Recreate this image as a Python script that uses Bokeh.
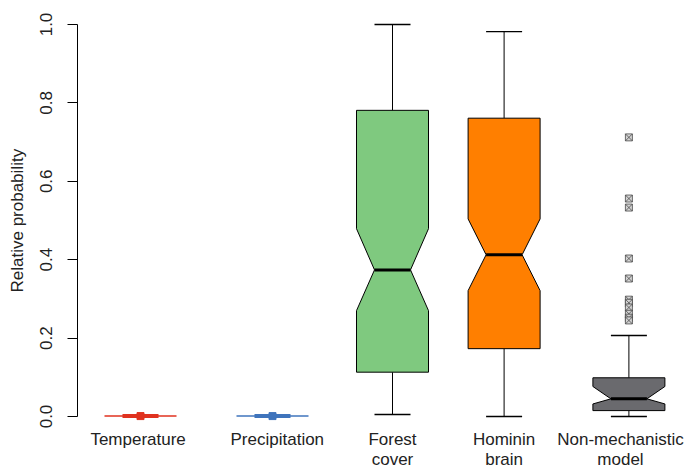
from bokeh.plotting import figure
from bokeh.models import FixedTicker, PrintfTickFormatter, Range1d, Title
from bokeh.core.properties import value
from bokeh.embed import file_html
from bokeh.resources import INLINE

# ---- data ----
groups = ["Temperature", "Precipitation", "Forest cover", "Hominin brain", "Non-mechanistic model"]
labels = ["Temperature", "Precipitation", "Forest\ncover", "Hominin\nbrain", "Non-mechanistic\nmodel"]
positions = [1.0, 2.1, 3.1, 4.03, 5.07]
label_x = [0.98, 2.14, 3.1, 4.03, 5.0]
colors = ["#E0321F", "#3F74BC", "#7FC97F", "#FF7F00", "#6A6A6E"]

lower_whisker = [0.0, 0.0, 0.005, 0.0, 0.0]
q1 = [0.0, 0.0, 0.113, 0.173, 0.015]
notch_lo = [0.0, 0.0, 0.270, 0.321, 0.032]
median = [0.001, 0.001, 0.374, 0.4125, 0.045]
notch_hi = [0.002, 0.002, 0.479, 0.504, 0.0765]
q3 = [0.002, 0.002, 0.781, 0.761, 0.0987]
upper_whisker = [0.004, 0.004, 1.0, 0.982, 0.2066]

outliers_nonmech = [0.712, 0.556, 0.533, 0.403, 0.352, 0.298, 0.290, 0.278, 0.262, 0.252, 0.245]

y_ticks = [0.0, 0.2, 0.4, 0.6, 0.8, 1.0]

FONT = "Liberation Sans"
FS = "17px"
HW = 0.3  # half box width (x units)

p = figure(width=686, height=468, output_backend="svg", toolbar_location=None,
           x_range=Range1d(0.475, 5.55), y_range=Range1d(-0.1327, 1.0612),
           x_axis_location=None, min_border_left=77, min_border_right=0,
           min_border_top=0, min_border_bottom=0)
p.outline_line_color = None
p.grid.visible = False
p.background_fill_color = "white"

ax = p.yaxis[0]
ax.ticker = FixedTicker(ticks=y_ticks)
ax.formatter = PrintfTickFormatter(format="%.1f")
ax.bounds = (0, 1)
ax.major_label_orientation = "vertical"
ax.major_label_text_font = FONT
ax.major_label_text_font_size = FS
ax.major_label_text_color = "#222222"
ax.major_tick_out = 10
ax.major_tick_in = 0
ax.minor_tick_line_color = None
ax.major_label_standoff = 15
ax.axis_line_color = "black"
ax.major_tick_line_color = "black"
ax.axis_label = " "
ax.axis_label_text_font_size = "1px"
ax.axis_label_standoff = 7

title = Title(text="Relative probability", align="left", offset=176,
              text_font=FONT, text_font_size=FS, text_font_style="normal",
              text_color="#222222", standoff=0)
p.add_layout(title, "left")

# notched boxes
xs, ys, fills = [], [], []
for i in range(len(groups)):
    if q3[i] - q1[i] < 0.01:
        continue
    x = positions[i]
    xs.append([x - HW, x - HW, x - HW / 2, x - HW, x - HW, x + HW, x + HW, x + HW / 2, x + HW, x + HW])
    ys.append([q1[i], notch_lo[i], median[i], notch_hi[i], q3[i], q3[i], notch_hi[i], median[i], notch_lo[i], q1[i]])
    fills.append(colors[i])

# whiskers and staples
for i in range(len(groups)):
    x = positions[i]
    if q3[i] - q1[i] < 0.01:
        # collapsed boxes
        p.segment(x0=[x - HW], y0=[median[i]], x1=[x + HW], y1=[median[i]], line_color=colors[i], line_width=1.5)
        p.segment(x0=[x - HW / 2], y0=[median[i]], x1=[x + HW / 2], y1=[median[i]], line_color=colors[i], line_width=4)
        p.scatter(x=[x], y=[median[i]], marker="square", size=7, fill_color=colors[i], line_color=colors[i])
        continue
    p.segment(x0=[x, x], y0=[q3[i], q1[i]], x1=[x, x], y1=[upper_whisker[i], lower_whisker[i]],
              line_color="black", line_width=1)
    p.segment(x0=[x - HW / 2, x - HW / 2], y0=[upper_whisker[i], lower_whisker[i]],
              x1=[x + HW / 2, x + HW / 2], y1=[upper_whisker[i], lower_whisker[i]],
              line_color="black", line_width=1.3)

p.patches(xs=xs, ys=ys, fill_color=fills, line_color="black", line_width=1)

for i in range(len(groups)):
    if q3[i] - q1[i] < 0.01:
        continue
    x = positions[i]
    p.segment(x0=[x - HW / 2], y0=[median[i]], x1=[x + HW / 2], y1=[median[i]],
              line_color="black", line_width=3)

p.scatter(x=[positions[4]] * len(outliers_nonmech), y=outliers_nonmech, marker="square_x",
          size=7, fill_color="#d4d4d4", line_color="#4a4a4a", line_width=0.8)

p.text(x=label_x, y=[-0.034] * len(labels), text=labels, text_font=value(FONT),
       text_font_size=FS, text_align="center", text_baseline="top",
       text_color="#222222", text_line_height=1.08)

open("out.html", "w").write(file_html(p, INLINE))
